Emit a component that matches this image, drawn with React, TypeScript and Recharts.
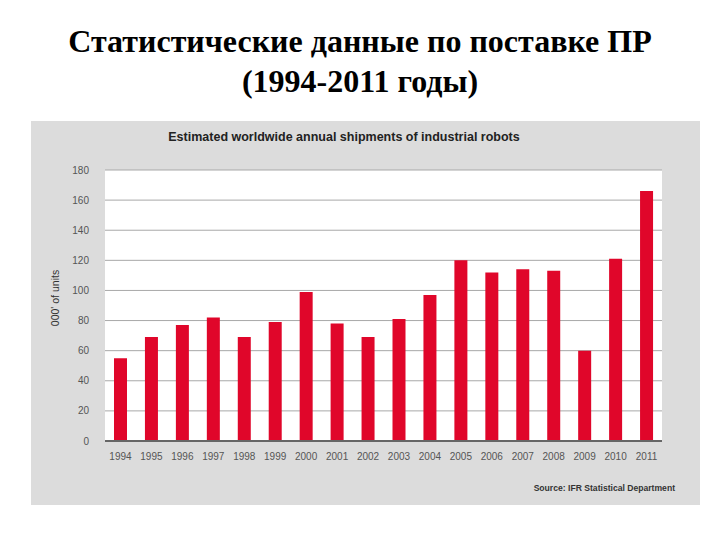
import React from "react";
import { BarChart, Bar, XAxis, YAxis, CartesianGrid } from "recharts";

const years = ["1994","1995","1996","1997","1998","1999","2000","2001","2002","2003","2004","2005","2006","2007","2008","2009","2010","2011"];
const shipments = [55, 69, 77, 82, 69, 79, 99, 78, 69, 81, 97, 120, 112, 114, 113, 60, 121, 166];
const yTicks = [0, 20, 40, 60, 80, 100, 120, 140, 160, 180];

const data = years.map((y, i) => ({ year: y, value: shipments[i] }));

export default function App() {
  return (
    <div style={{ position: "absolute", left: 0, top: 0, width: 720, height: 540, background: "#fff", overflow: "hidden" }}>
      <div style={{ position: "absolute", left: 0, top: 21, width: 720, textAlign: "center", fontFamily: "'Liberation Serif', 'Times New Roman', serif", fontWeight: "bold", fontSize: 32, lineHeight: "40px", color: "#000" }}>
        <div>Статистические данные по поставке ПР</div>
        <div>(1994-2011 годы)</div>
      </div>
      <div style={{ position: "absolute", left: 31, top: 121, width: 669, height: 384, background: "#dcdcdc" }} />
      <div style={{ position: "absolute", left: 0, top: 130, width: 688, textAlign: "center", fontFamily: "'Liberation Sans', Arial, sans-serif", fontWeight: "bold", fontSize: 12.5, color: "#222" }}>
        Estimated worldwide annual shipments of industrial robots
      </div>
      <div style={{ position: "absolute", left: 55, top: 298, width: 0, height: 0 }}>
        <div style={{ position: "absolute", left: -60, top: -7, width: 120, textAlign: "center", transform: "rotate(-90deg)", fontFamily: "'Liberation Sans', Arial, sans-serif", fontSize: 10.5, color: "#333", lineHeight: "14px" }}>
          000' of units
        </div>
      </div>
      <div style={{ position: "absolute", right: 45, top: 483, fontFamily: "'Liberation Sans', Arial, sans-serif", fontWeight: "bold", fontSize: 8.6, color: "#333" }}>
        Source: IFR Statistical Department
      </div>
      <div style={{ position: "absolute", left: 0, top: 0 }}>
        <BarChart width={720} height={540} data={data} margin={{ top: 170, right: 58, bottom: 69, left: 75 }}>
          <CartesianGrid vertical={false} fill="#ffffff" stroke="#a8a8a8" strokeWidth={1} />
          <XAxis dataKey="year" tickLine={false} axisLine={{ stroke: "#666", strokeWidth: 2 }} tick={{ fontSize: 10, fill: "#555", fontFamily: "'Liberation Sans', Arial, sans-serif" }} tickMargin={6} interval={0} height={30} />
          <YAxis domain={[0, 180]} ticks={yTicks} tickLine={false} axisLine={false} tick={{ fontSize: 10, fill: "#555", fontFamily: "'Liberation Sans', Arial, sans-serif" }} tickMargin={10} width={30} />
          <Bar dataKey="value" fill="#e0062a" barSize={13} isAnimationActive={false} />
        </BarChart>
      </div>
    </div>
  );
}
